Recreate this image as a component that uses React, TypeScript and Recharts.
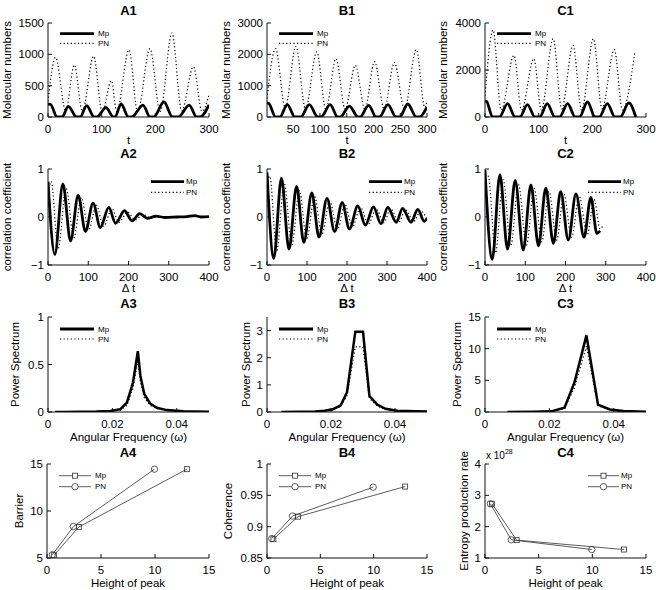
import React from "react";
import { LineChart, Line, XAxis, YAxis } from "recharts";

type Pt = [number, number];

// ---------- row 1: molecular numbers vs t ----------
const a1Mp: Pt[] = [[0, 200], [4, 205], [17, 0], [26, 0], [38, 170], [53, 0], [60, 0], [72, 180], [86, 0], [91, 0], [108, 150], [122, 0], [125, 0], [136, 210], [150, 0], [156, 0], [177, 190], [190, 0], [197, 0], [216, 240], [232, 0], [243, 0], [263, 190], [277, 0], [283, 0], [300, 195]];
const a1Pn: Pt[] = [[0, 250], [14, 950], [33, 100], [49, 830], [64, 90], [85, 970], [101, 80], [118, 580], [128, 90], [151, 1070], [167, 80], [190, 1090], [209, 90], [231, 1340], [249, 100], [271, 800], [287, 90], [300, 350]];
const b1Mp: Pt[] = [[1, 450], [4, 440], [17, 0], [25, 0], [39, 395], [53, 0], [64, 0], [80, 395], [96, 0], [102, 0], [119, 395], [133, 0], [138, 0], [155, 350], [171, 0], [175, 0], [191, 370], [205, 0], [211, 0], [227, 395], [242, 0], [249, 0], [264, 415], [280, 0], [286, 0], [300, 320]];
const b1Pn: Pt[] = [[1, 590], [17, 2180], [35, 300], [55, 2250], [73, 250], [94, 2080], [111, 250], [130, 1860], [147, 250], [166, 1650], [184, 250], [202, 1770], [220, 250], [239, 1740], [258, 250], [280, 2150], [296, 300], [300, 500]];
const c1Mp: Pt[] = [[0, 680], [3, 660], [14, 0], [27, 0], [42, 570], [56, 0], [65, 0], [79, 525], [93, 0], [102, 0], [116, 570], [130, 0], [139, 0], [154, 570], [168, 0], [176, 0], [191, 640], [205, 0], [213, 0], [228, 570], [242, 0], [252, 0], [268, 600], [281, 0]];
const c1Pn: Pt[] = [[0, 900], [15, 3700], [30, 300], [54, 2620], [68, 300], [91, 2480], [105, 300], [127, 3330], [143, 350], [164, 3050], [180, 300], [202, 3330], [218, 350], [241, 2870], [256, 300], [279, 2720]];

// ---------- row 2: correlation coefficient vs lag ----------
const a2Mp: Pt[] = [[0, 0.74], [17, -0.78], [37, 0.69], [56, -0.5], [75, 0.45], [93, -0.3], [112, 0.29], [130, -0.22], [151, 0.2], [168, -0.13], [190, 0.13], [209, -0.08], [228, 0.07], [247, -0.03], [268, 0.02], [290, -0.01], [320, 0], [345, 0.01], [365, 0.03], [380, 0], [400, 0.01]];
const a2Pn: Pt[] = [[0, 0.45], [8, 0.74], [25, -0.66], [45, 0.6], [64, -0.44], [83, 0.4], [101, -0.27], [120, 0.25], [138, -0.19], [159, 0.17], [176, -0.11], [198, 0.1], [217, -0.06], [236, 0.05], [255, -0.02], [280, 0.01], [320, 0], [360, 0.02], [400, 0]];
const b2Mp: Pt[] = [[0, 0.93], [17, -0.86], [36, 0.81], [55, -0.67], [74, 0.64], [92, -0.53], [112, 0.5], [130, -0.42], [150, 0.39], [169, -0.3], [188, 0.3], [206, -0.25], [227, 0.23], [246, -0.17], [266, 0.21], [285, -0.14], [302, 0.2], [323, -0.11], [339, 0.18], [360, -0.11], [377, 0.16], [393, -0.09], [400, -0.03]];
const b2Pn: Pt[] = [[0, 0.75], [7, 0.85], [24, -0.72], [43, 0.7], [62, -0.58], [81, 0.55], [99, -0.45], [119, 0.43], [137, -0.36], [157, 0.33], [176, -0.26], [195, 0.26], [213, -0.21], [234, 0.2], [253, -0.15], [273, 0.17], [292, -0.12], [309, 0.17], [330, -0.1], [346, 0.15], [367, -0.09], [384, 0.13], [400, -0.05]];
const c2Mp: Pt[] = [[0, 0.98], [18, -0.88], [37, 0.88], [56, -0.67], [75, 0.76], [95, -0.69], [114, 0.67], [133, -0.6], [151, 0.6], [170, -0.55], [188, 0.53], [207, -0.48], [226, 0.48], [246, -0.42], [263, 0.41], [278, -0.34], [286, -0.29]];
const c2Pn: Pt[] = [[0, 0.8], [8, 0.85], [26, -0.75], [45, 0.78], [64, -0.6], [83, 0.68], [103, -0.58], [122, 0.6], [141, -0.52], [159, 0.53], [178, -0.48], [196, 0.47], [215, -0.42], [234, 0.43], [254, -0.37], [271, 0.37], [286, -0.25], [292, -0.2]];

// ---------- row 3: power spectrum vs angular frequency ----------
const a3Mp: Pt[] = [[0.0022, 0], [0.005, 0.001], [0.01, 0.002], [0.015, 0.004], [0.0194, 0.01], [0.0225, 0.03], [0.0245, 0.1], [0.0264, 0.31], [0.0279, 0.64], [0.0287, 0.38], [0.0299, 0.19], [0.0317, 0.09], [0.0338, 0.045], [0.0369, 0.02], [0.042, 0.008], [0.05, 0.003]];
const a3Pn: Pt[] = [[0.0022, 0], [0.01, 0.001], [0.0194, 0.006], [0.0225, 0.02], [0.0245, 0.07], [0.0264, 0.25], [0.0279, 0.53], [0.0287, 0.32], [0.0299, 0.15], [0.0317, 0.07], [0.0338, 0.035], [0.0369, 0.015], [0.042, 0.006], [0.05, 0.002]];
const b3Mp: Pt[] = [[0.0045, 0], [0.01, 0.01], [0.015, 0.02], [0.018, 0.05], [0.0205, 0.1], [0.023, 0.24], [0.025, 0.73], [0.0276, 2.96], [0.03, 2.96], [0.032, 0.59], [0.0345, 0.27], [0.037, 0.12], [0.0407, 0.05], [0.05, 0.02]];
const b3Pn: Pt[] = [[0.0045, 0], [0.015, 0.015], [0.0205, 0.08], [0.023, 0.2], [0.025, 0.6], [0.0276, 2.4], [0.03, 2.4], [0.032, 0.5], [0.0345, 0.22], [0.037, 0.1], [0.0407, 0.04], [0.05, 0.015]];
const c3Mp: Pt[] = [[0.007, 0], [0.015, 0.03], [0.0205, 0.1], [0.0247, 0.68], [0.0278, 4.7], [0.0315, 12.1], [0.0351, 1.15], [0.0388, 0.4], [0.043, 0.15], [0.05, 0.05]];
const c3Pn: Pt[] = [[0.007, 0], [0.015, 0.02], [0.0205, 0.08], [0.0247, 0.55], [0.0278, 3.9], [0.0315, 10.4], [0.0351, 0.95], [0.0388, 0.33], [0.043, 0.12], [0.05, 0.04]];

// ---------- row 4: measures vs height of peak ----------
const a4Mp: Pt[] = [[0.65, 5.3], [2.95, 8.3], [12.95, 14.45]];
const a4Pn: Pt[] = [[0.5, 5.35], [2.45, 8.35], [9.95, 14.45]];
const b4Mp: Pt[] = [[0.6, 0.88], [2.9, 0.916], [12.95, 0.964]];
const b4Pn: Pt[] = [[0.45, 0.881], [2.4, 0.917], [9.95, 0.963]];
const c4Mp: Pt[] = [[0.65, 2.73], [2.95, 1.57], [12.95, 1.27]]; // x 10^28
const c4Pn: Pt[] = [[0.5, 2.73], [2.45, 1.58], [9.95, 1.27]];

const tTicks = [0, 100, 200, 300];
const tTicksB = [50, 100, 150, 200, 250, 300];
const lagTicks = [0, 100, 200, 300, 400];
const corrTicks = [-1, 0, 1];
const freqTicks = [0, 0.02, 0.04];
const peakTicks = [0, 5, 10, 15];

const FONT = "'Liberation Sans', Arial, Helvetica, sans-serif";
const INK = "#111";
const Y_W = 56;
const M_T = 20;
const M_R = 14;
const X_H = 36;

type Kind = "ts" | "corr" | "spec" | "pts";
interface PanelDef {
  title: string;
  x: number; y: number; w: number; h: number;
  kind: Kind;
  xDomain: [number, number]; xTicks: number[];
  yDomain: [number, number]; yTicks: number[];
  xLabel: string; yLabel: string;
  xOff: number; yOff: number; titleY: number;
  mp: Pt[]; pn: Pt[];
  legend: "left" | "right";
  legY: [number, number];
}

const colA = 48, colB = 267, colC = 485;
const row = [23, 169, 317, 464];
const titleRow = [10, 153, 303, 452];

const panels: PanelDef[] = [
  { title: "A1", x: colA, y: row[0], w: 161, h: 94, kind: "ts", xDomain: [0, 300], xTicks: tTicks, yDomain: [0, 1500], yTicks: [0, 500, 1000, 1500], xLabel: "t", yLabel: "Molecular numbers", xOff: 23, yOff: 41, titleY: titleRow[0], mp: a1Mp, pn: a1Pn, legend: "left", legY: [10.7, 20.3] },
  { title: "B1", x: colB, y: row[0], w: 160, h: 94, kind: "ts", xDomain: [1, 300], xTicks: tTicksB, yDomain: [0, 3000], yTicks: [0, 1000, 2000, 3000], xLabel: "t", yLabel: "Molecular numbers", xOff: 23, yOff: 41, titleY: titleRow[0], mp: b1Mp, pn: b1Pn, legend: "left", legY: [10.7, 20.3] },
  { title: "C1", x: colC, y: row[0], w: 161, h: 94, kind: "ts", xDomain: [0, 300], xTicks: tTicks, yDomain: [0, 4000], yTicks: [0, 2000, 4000], xLabel: "t", yLabel: "Molecular numbers", xOff: 23, yOff: 42, titleY: titleRow[0], mp: c1Mp, pn: c1Pn, legend: "left", legY: [10.7, 20.3] },
  { title: "A2", x: colA, y: row[1], w: 161, h: 96, kind: "corr", xDomain: [0, 400], xTicks: lagTicks, yDomain: [-1, 1], yTicks: corrTicks, xLabel: "\u0394 t", yLabel: "correlation coefficient", xOff: 23, yOff: 41, titleY: titleRow[1], mp: a2Mp, pn: a2Pn, legend: "right", legY: [12.7, 23.3] },
  { title: "B2", x: colB, y: row[1], w: 160, h: 96, kind: "corr", xDomain: [0, 400], xTicks: lagTicks, yDomain: [-1, 1], yTicks: corrTicks, xLabel: "\u0394 t", yLabel: "correlation coefficient", xOff: 23, yOff: 41, titleY: titleRow[1], mp: b2Mp, pn: b2Pn, legend: "right", legY: [12.7, 23.3] },
  { title: "C2", x: colC, y: row[1], w: 161, h: 96, kind: "corr", xDomain: [0, 400], xTicks: lagTicks, yDomain: [-1, 1], yTicks: corrTicks, xLabel: "\u0394 t", yLabel: "correlation coefficient", xOff: 23, yOff: 42, titleY: titleRow[1], mp: c2Mp, pn: c2Pn, legend: "right", legY: [12.7, 23.3] },
  { title: "A3", x: colA, y: row[2], w: 161, h: 95, kind: "spec", xDomain: [0, 0.05], xTicks: freqTicks, yDomain: [0, 1], yTicks: [0, 0.5, 1], xLabel: "Angular Frequency (\u03c9)", yLabel: "Power Spectrum", xOff: 25, yOff: 33, titleY: titleRow[2], mp: a3Mp, pn: a3Pn, legend: "left", legY: [12, 22] },
  { title: "B3", x: colB, y: row[2], w: 160, h: 95, kind: "spec", xDomain: [0, 0.05], xTicks: freqTicks, yDomain: [0, 3.5], yTicks: [0, 1, 2, 3], xLabel: "Angular Frequency (\u03c9)", yLabel: "Power Spectrum", xOff: 25, yOff: 21, titleY: titleRow[2], mp: b3Mp, pn: b3Pn, legend: "left", legY: [12, 22] },
  { title: "C3", x: colC, y: row[2], w: 161, h: 95, kind: "spec", xDomain: [0, 0.05], xTicks: freqTicks, yDomain: [0, 15], yTicks: [0, 5, 10, 15], xLabel: "Angular Frequency (\u03c9)", yLabel: "Power Spectrum", xOff: 25, yOff: 28, titleY: titleRow[2], mp: c3Mp, pn: c3Pn, legend: "left", legY: [12, 22] },
  { title: "A4", x: 47, y: row[3], w: 162, h: 94, kind: "pts", xDomain: [0, 15], xTicks: peakTicks, yDomain: [5, 15], yTicks: [5, 10, 15], xLabel: "Height of peak", yLabel: "Barrier", xOff: 25, yOff: 28, titleY: titleRow[3], mp: a4Mp, pn: a4Pn, legend: "left", legY: [11.7, 22.7] },
  { title: "B4", x: colB, y: row[3], w: 160, h: 94, kind: "pts", xDomain: [0, 15], xTicks: peakTicks, yDomain: [0.85, 1], yTicks: [0.85, 0.9, 0.95, 1], xLabel: "Height of peak", yLabel: "Coherence", xOff: 25, yOff: 39, titleY: titleRow[3], mp: b4Mp, pn: b4Pn, legend: "left", legY: [11.7, 22.7] },
  { title: "C4", x: colC, y: row[3], w: 161, h: 94, kind: "pts", xDomain: [0, 15], xTicks: peakTicks, yDomain: [1, 4], yTicks: [1, 2, 3, 4], xLabel: "Height of peak", yLabel: "Entropy production rate", xOff: 25, yOff: 21, titleY: titleRow[3], mp: c4Mp, pn: c4Pn, legend: "right", legY: [11.7, 22.7] },
];

const toRows = (arr: Pt[]) => arr.map(([x, y]) => ({ x, y }));
const fmt = (v: number) => (v < 0 ? `\u2212${-v}` : `${v}`);

const xLabelContent = (text: string, off: number) => (props: any) => {
  const vb = props.viewBox;
  return (
    <text x={vb.x + vb.width / 2} y={vb.y + off} textAnchor="middle" dominantBaseline="central" fontSize={11.5} fill="#000" fontFamily={FONT}>
      {text}
    </text>
  );
};
const yLabelContent = (text: string, off: number) => (props: any) => {
  const vb = props.viewBox;
  const cx = vb.x + vb.width - off;
  const cy = vb.y + vb.height / 2;
  return (
    <text x={cx} y={cy} transform={`rotate(-90 ${cx} ${cy})`} textAnchor="middle" dominantBaseline="central" fontSize={11.5} fill="#000" fontFamily={FONT}>
      {text}
    </text>
  );
};

const squareDot = (props: any) => (
  <rect key={`sq-${props.index}`} x={props.cx - 2.5} y={props.cy - 2.5} width={5} height={5} fill="none" stroke="#333" strokeWidth={0.8} />
);
const circleDot = (props: any) => (
  <circle key={`ci-${props.index}`} cx={props.cx} cy={props.cy} r={3.2} fill="none" stroke="#333" strokeWidth={0.8} />
);

function Panel({ p }: { p: PanelDef }) {
  const W = Y_W + p.w + M_R;
  const H = M_T + p.h + X_H;
  const tick = { fill: "#000", fontSize: 11.5, fontFamily: FONT };
  const pts = p.kind === "pts";
  const curve = p.kind === "ts" || p.kind === "corr" ? "monotone" : "linear";
  return (
    <div style={{ position: "absolute", left: p.x - Y_W, top: p.y - M_T }}>
      <LineChart width={W} height={H} margin={{ top: M_T, right: M_R, bottom: 0, left: 0 }}>
        <XAxis
          type="number"
          dataKey="x"
          domain={p.xDomain}
          ticks={p.xTicks}
          interval={0}
          allowDataOverflow
          height={X_H}
          stroke={INK}
          tickSize={-4}
          tickMargin={12}
          tick={tick}
          tickFormatter={fmt}
          label={xLabelContent(p.xLabel, p.xOff)}
        />
        <XAxis
          xAxisId="top"
          orientation="top"
          type="number"
          dataKey="x"
          domain={p.xDomain}
          ticks={p.xTicks}
          interval={0}
          allowDataOverflow
          height={0}
          stroke={INK}
          tickSize={-4}
          tick={false}
        />
        <YAxis
          type="number"
          domain={p.yDomain}
          ticks={p.yTicks}
          interval={0}
          allowDataOverflow
          width={Y_W}
          stroke={INK}
          tickSize={-4}
          tickMargin={8}
          tick={tick}
          tickFormatter={fmt}
          label={yLabelContent(p.yLabel, p.yOff)}
        />
        <YAxis
          yAxisId="right"
          orientation="right"
          type="number"
          domain={p.yDomain}
          ticks={p.yTicks}
          interval={0}
          allowDataOverflow
          width={0}
          stroke={INK}
          tickSize={-4}
          tick={false}
        />
        <Line
          data={toRows(p.pn)}
          dataKey="y"
          type={curve}
          stroke={pts ? "#333" : "#000"}
          strokeWidth={pts ? 0.8 : 1.2}
          strokeDasharray={pts ? undefined : "1.2 2.4"}
          dot={pts ? circleDot : false}
          activeDot={false}
          isAnimationActive={false}
        />
        <Line
          data={toRows(p.mp)}
          dataKey="y"
          type={curve}
          stroke={pts ? "#333" : "#000"}
          strokeWidth={pts ? 0.8 : p.kind === "spec" ? 2.5 : 2.8}
          dot={pts ? squareDot : false}
          activeDot={false}
          isAnimationActive={false}
        />
      </LineChart>
    </div>
  );
}

function Overlay() {
  return (
    <svg width={656} height={590} style={{ position: "absolute", left: 0, top: 0, pointerEvents: "none" }}>
      {panels.map((p) => {
        const pts = p.kind === "pts";
        const x0 = p.legend === "left" ? p.x + 12 : p.x + p.w - 58;
        const x1 = p.legend === "left" ? p.x + (pts ? 44 : 46) : p.x + p.w - (pts ? 27 : 25);
        const tx = x1 + (p.legend === "left" ? 4 : 2);
        const [d1, d2] = p.legY;
        const y1 = p.y + d1;
        const y2 = p.y + d2;
        const mx = (x0 + x1) / 2;
        return (
          <g key={p.title} fontFamily={FONT} fontSize={8} fill="#000">
            <text x={p.x + p.w / 2} y={p.titleY} textAnchor="middle" dominantBaseline="central" fontSize={13} fontWeight="bold">
              {p.title}
            </text>
            <line x1={x0} x2={x1} y1={y1} y2={y1} stroke={pts ? "#333" : "#000"} strokeWidth={pts ? 0.8 : 2.8} />
            <line x1={x0} x2={x1} y1={y2} y2={y2} stroke={pts ? "#333" : "#000"} strokeWidth={pts ? 0.8 : 1.2} strokeDasharray={pts ? undefined : "1.2 2.4"} />
            {pts && <rect x={mx - 2.5} y={y1 - 2.5} width={5} height={5} fill="#fff" stroke="#333" strokeWidth={0.8} />}
            {pts && <circle cx={mx} cy={y2} r={3.2} fill="#fff" stroke="#333" strokeWidth={0.8} />}
            <text x={tx} y={y1} dominantBaseline="central">Mp</text>
            <text x={tx} y={y2} dominantBaseline="central">PN</text>
          </g>
        );
      })}
      <text x={486} y={459} fontFamily={FONT} fontSize={10} fill="#000">
        x 10
        <tspan dy={-5} fontSize={7}>28</tspan>
      </text>
    </svg>
  );
}

export default function App() {
  return (
    <div style={{ position: "absolute", left: 0, top: 0, width: 656, height: 590, background: "#fff", overflow: "hidden", fontFamily: FONT }}>
      {panels.map((p) => (
        <Panel key={p.title} p={p} />
      ))}
      <Overlay />
    </div>
  );
}
